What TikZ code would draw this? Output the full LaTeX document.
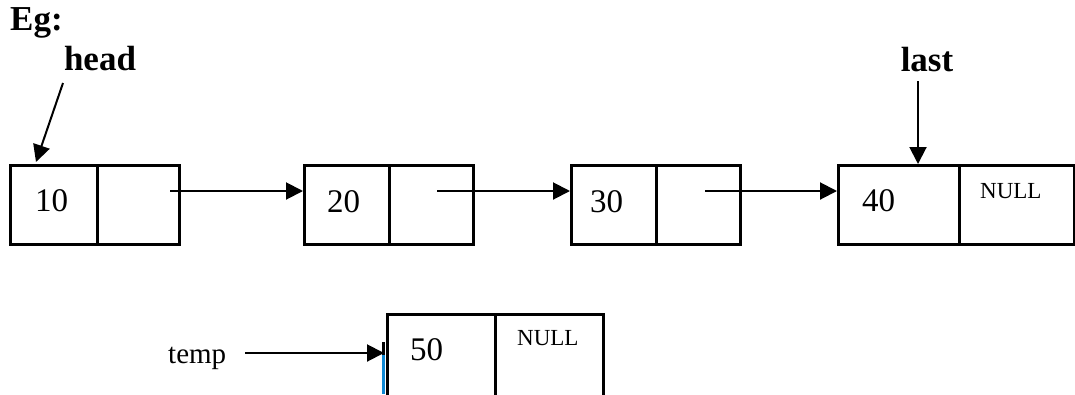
\documentclass[tikz,border=0pt]{standalone}
\usepackage{fontspec}
\setmainfont{Liberation Serif}
\usetikzlibrary{arrows.meta}
\begin{document}
\begin{tikzpicture}[x=1pt,y=-1pt,
  cell/.style={draw, line width=3pt, anchor=north west, inner sep=0pt, minimum height=79pt},
  arr/.style={line width=2pt, -{Triangle[length=17pt,width=17pt]}},
  val/.style={anchor=base west, inner sep=0pt, font=\fontsize{33}{33}\selectfont},
  nul/.style={anchor=base west, inner sep=0pt, font=\fontsize{23}{23}\selectfont},
  lbl/.style={anchor=base, inner sep=0pt, font=\fontsize{35}{35}\selectfont\bfseries}]
\useasboundingbox (0,0) rectangle (1075,394);
% boxes
\node[cell, minimum width=87pt] (d1) at (9,164) {};
\node[cell, minimum width=82pt] (n1) at (96,164) {};
\node[cell, minimum width=85pt] (d2) at (303,164) {};
\node[cell, minimum width=84pt] (n2) at (388,164) {};
\node[cell, minimum width=85pt] (d3) at (570,164) {};
\node[cell, minimum width=84pt] (n3) at (655,164) {};
\node[cell, minimum width=121pt] (d4) at (837,164) {};
\node[cell, minimum width=115pt] (n4) at (958,164) {};
\node[cell, minimum width=108pt, minimum height=100pt] (d5) at (386,313) {};
\node[cell, minimum width=108pt, minimum height=100pt] (n5) at (494,313) {};
% values
\node[val] (v1) at (35,211) {10};
\node[val] (v2) at (327,212) {20};
\node[val] (v3) at (590,212) {30};
\node[val] (v4) at (862,211) {40};
\node[val] (v5) at (410,360) {50};
\node[nul] (null4) at (980,198) {NULL};
\node[nul] (null5) at (517,345) {NULL};
% labels
\node[anchor=base west, inner sep=0pt, font=\fontsize{35}{35}\selectfont\bfseries] (eg) at (10,30) {Eg:};
\node[lbl] (head) at (100,70) {head};
\node[lbl] (last) at (927,71) {last};
\node[anchor=base west, inner sep=0pt, font=\fontsize{29}{29}\selectfont] (temp) at (168,363) {temp};
% connectors
\coordinate (p1) at (170,191);
\coordinate (p2) at (437,191);
\coordinate (p3) at (705,191);
\draw[arr] (p1) -- (d2.west |- p1);
\draw[arr] (p2) -- (d3.west |- p2);
\draw[arr] (p3) -- (d4.west |- p3);
\coordinate (hs) at (63,83);
\coordinate (ht) at (36,162);
\draw[arr] (hs) -- (ht);
\coordinate (ls) at (918,81);
\draw[arr] (ls) -- (ls |- d4.north);
\coordinate (ts) at (245,353);
\draw[arr] (ts) -- (384,353);
% selection artifact
\fill[black] (382,342) rectangle (385,355);
\fill[cyan!70!blue] (382,355) rectangle (385,394);
\end{tikzpicture}
\end{document}
